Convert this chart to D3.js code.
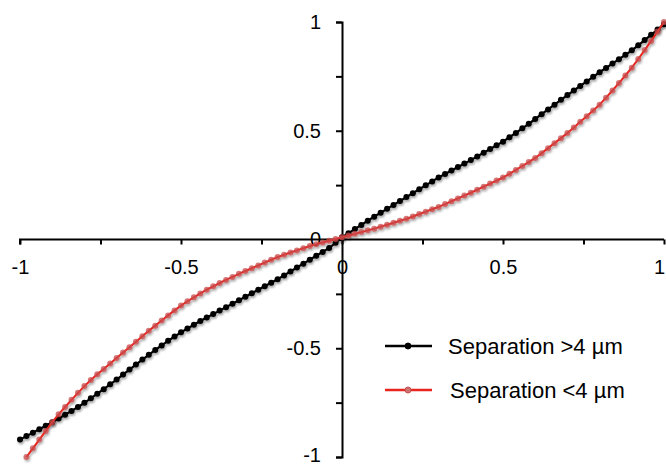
<!DOCTYPE html>
<html>
<head>
<meta charset="utf-8">
<script src="https://cdn.jsdelivr.net/npm/d3@7"></script>
<style>
  html, body { margin: 0; padding: 0; background: #ffffff; }
  svg { display: block; }
  text { font-family: "Liberation Sans", Arial, Helvetica, sans-serif; }
</style>
</head>
<body>
<svg id="chart" width="666" height="467"></svg>
<script>
// ---- data ----
const xTicks = [-1, -0.75, -0.5, -0.25, 0, 0.25, 0.5, 0.75, 1];
const xTickLabels = ["-1", "", "-0.5", "", "0", "", "0.5", "", "1"];
const yTicks = [-1, -0.75, -0.5, -0.25, 0, 0.25, 0.5, 0.75, 1];
const yTickLabels = ["-1", "", "-0.5", "", "0", "", "0.5", "", "1"];

const seriesNames = ["Separation >4 \u00b5m", "Separation <4 \u00b5m"];

const blackX = [-1.00,-0.98,-0.96,-0.94,-0.92,-0.90,-0.88,-0.86,-0.84,-0.82,-0.80,-0.78,-0.76,-0.74,-0.72,-0.70,-0.68,-0.66,-0.64,-0.62,-0.60,-0.58,-0.56,-0.54,-0.52,-0.50,-0.48,-0.46,-0.44,-0.42,-0.40,-0.38,-0.36,-0.34,-0.32,-0.30,-0.28,-0.26,-0.24,-0.22,-0.20,-0.18,-0.16,-0.14,-0.12,-0.10,-0.08,-0.06,-0.04,-0.02,0.00,0.02,0.04,0.06,0.08,0.10,0.12,0.14,0.16,0.18,0.20,0.22,0.24,0.26,0.28,0.30,0.32,0.34,0.36,0.38,0.40,0.42,0.44,0.46,0.48,0.50,0.52,0.54,0.56,0.58,0.60,0.62,0.64,0.66,0.68,0.70,0.72,0.74,0.76,0.78,0.80,0.82,0.84,0.86,0.88,0.90,0.92,0.94,0.96,0.98,1.00];
const blackY = [-0.920,-0.904,-0.888,-0.872,-0.856,-0.840,-0.823,-0.806,-0.788,-0.770,-0.751,-0.730,-0.709,-0.688,-0.666,-0.644,-0.621,-0.598,-0.575,-0.552,-0.530,-0.508,-0.487,-0.466,-0.446,-0.427,-0.409,-0.392,-0.375,-0.359,-0.343,-0.327,-0.311,-0.295,-0.279,-0.263,-0.247,-0.231,-0.215,-0.199,-0.183,-0.165,-0.147,-0.129,-0.111,-0.093,-0.075,-0.057,-0.039,-0.015,0.010,0.029,0.048,0.067,0.086,0.105,0.123,0.141,0.159,0.177,0.195,0.213,0.231,0.249,0.267,0.285,0.301,0.317,0.333,0.349,0.365,0.382,0.399,0.416,0.433,0.450,0.470,0.490,0.511,0.532,0.554,0.576,0.598,0.620,0.642,0.664,0.685,0.706,0.727,0.748,0.769,0.789,0.809,0.829,0.849,0.870,0.893,0.917,0.941,0.965,0.990];

const redX = [-0.98,-0.96,-0.94,-0.92,-0.90,-0.88,-0.86,-0.84,-0.82,-0.80,-0.78,-0.76,-0.74,-0.72,-0.70,-0.68,-0.66,-0.64,-0.62,-0.60,-0.58,-0.56,-0.54,-0.52,-0.50,-0.48,-0.46,-0.44,-0.42,-0.40,-0.38,-0.36,-0.34,-0.32,-0.30,-0.28,-0.26,-0.24,-0.22,-0.20,-0.18,-0.16,-0.14,-0.12,-0.10,-0.08,-0.06,-0.04,-0.02,0.00,0.02,0.04,0.06,0.08,0.10,0.12,0.14,0.16,0.18,0.20,0.22,0.24,0.26,0.28,0.30,0.32,0.34,0.36,0.38,0.40,0.42,0.44,0.46,0.48,0.50,0.52,0.54,0.56,0.58,0.60,0.62,0.64,0.66,0.68,0.70,0.72,0.74,0.76,0.78,0.80,0.82,0.84,0.86,0.88,0.90,0.92,0.94,0.96,0.98,1.00];
const redY = [-1.000,-0.960,-0.920,-0.880,-0.840,-0.804,-0.770,-0.737,-0.705,-0.674,-0.646,-0.620,-0.595,-0.570,-0.545,-0.520,-0.495,-0.470,-0.445,-0.420,-0.396,-0.372,-0.349,-0.326,-0.304,-0.284,-0.266,-0.248,-0.231,-0.215,-0.200,-0.186,-0.172,-0.158,-0.145,-0.132,-0.119,-0.106,-0.093,-0.081,-0.070,-0.060,-0.050,-0.040,-0.030,-0.022,-0.014,-0.006,0.002,0.010,0.018,0.026,0.034,0.042,0.050,0.059,0.068,0.077,0.086,0.095,0.106,0.117,0.128,0.139,0.150,0.163,0.176,0.189,0.202,0.215,0.229,0.243,0.257,0.271,0.285,0.302,0.320,0.338,0.356,0.375,0.397,0.420,0.443,0.466,0.490,0.515,0.541,0.567,0.593,0.620,0.652,0.685,0.719,0.754,0.790,0.830,0.871,0.913,0.956,1.000];

// ---- chart ----
const svg = d3.select("#chart");
const x = d3.scaleLinear().domain([-1, 1]).range([20, 664]);
const y = d3.scaleLinear().domain([-1, 1]).range([457, 22]);

const fontTick = 20;

// x axis (at y=0)
const xAxis = d3.axisBottom(x)
  .tickValues(xTicks)
  .tickSize(5)
  .tickPadding(15)
  .tickFormat((d, i) => xTickLabels[i]);
const gx = svg.append("g")
  .attr("transform", `translate(0,${y(0)})`)
  .call(xAxis);
gx.select(".domain").attr("stroke", "#000").attr("stroke-width", 2)
  .attr("d", `M${x(-1)},5V0H${x(1)}`);
gx.selectAll(".tick line").attr("stroke", "#000").attr("stroke-width", 2);
gx.selectAll(".tick text").attr("font-size", fontTick).attr("fill", "#000")
  .attr("font-family", "Liberation Sans, Arial, sans-serif")
  .attr("dx", d => d === 1 ? -5 : 0);

// y axis (at x=0)
const yAxis = d3.axisLeft(y)
  .tickValues(yTicks)
  .tickSize(6)
  .tickPadding(15)
  .tickFormat((d, i) => yTickLabels[i]);
const gy = svg.append("g")
  .attr("transform", `translate(${x(0)},0)`)
  .call(yAxis);
gy.select(".domain").attr("stroke", "#000").attr("stroke-width", 2);
gy.selectAll(".tick line").attr("stroke", "#000").attr("stroke-width", 2);
gy.selectAll(".tick text").attr("font-size", fontTick).attr("fill", "#000")
  .attr("font-family", "Liberation Sans, Arial, sans-serif")
  .attr("dy", d => d === -1 ? "0.2em" : "0.32em");

// series
const blackData = blackX.map((v, i) => [v, blackY[i]]);
const redData = redX.map((v, i) => [v, redY[i]]);
const line = d3.line().x(d => x(d[0])).y(d => y(d[1]));

const defs = svg.append("defs");
const f = defs.append("filter").attr("id", "shadow").attr("x", "-10%").attr("y", "-10%").attr("width", "120%").attr("height", "120%");
f.append("feGaussianBlur").attr("in", "SourceAlpha").attr("stdDeviation", 1.2).attr("result", "b");
f.append("feOffset").attr("in", "b").attr("dx", 1).attr("dy", 1.5).attr("result", "o");
f.append("feComponentTransfer").attr("in", "o").attr("result", "o2")
  .append("feFuncA").attr("type", "linear").attr("slope", 0.35);
const fm = f.append("feMerge");
fm.append("feMergeNode").attr("in", "o2");
fm.append("feMergeNode").attr("in", "SourceGraphic");

const gBlack = svg.append("g").attr("filter", "url(#shadow)");
gBlack.append("path").datum(blackData).attr("d", line)
  .attr("fill", "none").attr("stroke", "#000").attr("stroke-width", 2.2);
gBlack.selectAll("circle").data(blackData).join("circle")
  .attr("cx", d => x(d[0])).attr("cy", d => y(d[1])).attr("r", 3)
  .attr("fill", "#000");

const gRed = svg.append("g").attr("filter", "url(#shadow)");
gRed.append("path").datum(redData).attr("d", line)
  .attr("fill", "none").attr("stroke", "#e8251f").attr("stroke-width", 2);
gRed.selectAll("circle").data(redData).join("circle")
  .attr("cx", d => x(d[0])).attr("cy", d => y(d[1])).attr("r", 3)
  .attr("fill", "rgba(200,75,75,0.75)");

// legend
const legend = svg.append("g");
const legItems = [
  { name: seriesNames[0], color: "#000", mfill: "#000", my: 346, tx: 448 },
  { name: seriesNames[1], color: "#e8251f", mfill: "#d07070", my: 390, tx: 450 }
];
legItems.forEach(it => {
  legend.append("line").attr("x1", 385).attr("x2", 432).attr("y1", it.my).attr("y2", it.my)
    .attr("stroke", it.color).attr("stroke-width", 2.5);
  legend.append("circle").attr("cx", 408).attr("cy", it.my).attr("r", 3)
    .attr("fill", it.mfill).attr("stroke", it.color === "#000" ? "#000" : "#c0504d").attr("stroke-width", 1);
  legend.append("text").attr("x", it.tx).attr("y", it.my).attr("dy", "0.35em")
    .attr("font-size", 22).attr("fill", "#000").text(it.name);
});
</script>
</body>
</html>
